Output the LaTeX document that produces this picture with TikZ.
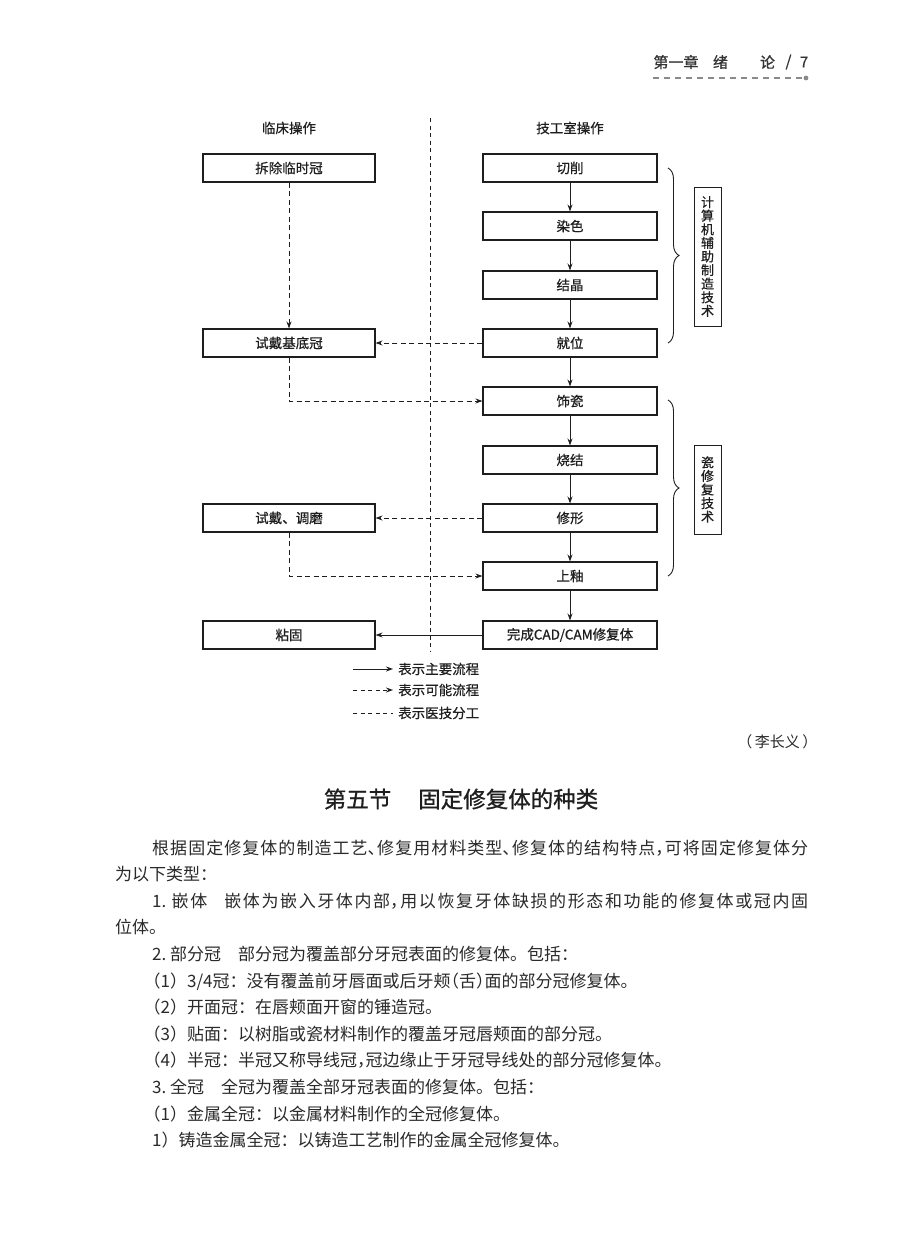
\documentclass[tikz,border=0pt]{standalone}
\usepackage{fontspec}
\setmainfont{Noto Sans CJK SC}
\newfontfamily\bodyfont{Noto Sans CJK SC}[RawFeature={+halt}]
\newfontfamily\diagfont{Noto Sans CJK SC}[FakeBold=0.6]
\newfontfamily\headfont{Noto Sans CJK SC}[FakeBold=0.9]
\usetikzlibrary{arrows.meta,decorations.pathreplacing}
\XeTeXlinebreaklocale "zh"
\XeTeXlinebreakskip=0pt plus 2pt
\definecolor{ink}{HTML}{1E1E1E}
\definecolor{txt}{HTML}{2A2A2A}
\definecolor{hdrgray}{HTML}{333333}
\definecolor{hdrline}{HTML}{8A8A8A}
\newcommand{\hs}{\hspace{0.5em}}
\begin{document}
\begin{tikzpicture}[x=1pt,y=-1pt,
  box/.style={draw=ink, line width=1.1pt, minimum height=28pt, inner sep=0pt,
    font=\diagfont\fontsize{13.5}{14}\selectfont, text=ink},
  lbox/.style={box, minimum width=172pt},
  rbox/.style={box, minimum width=174pt},
  arr/.style={draw=ink, line width=1pt, -{Stealth[length=7pt,width=5pt]}},
  darr/.style={arr, dash pattern=on 5pt off 3.5pt},
  sepline/.style={draw=ink, line width=1pt, dash pattern=on 4pt off 3.5pt},
  vbox/.style={draw=ink, line width=1pt, minimum width=27pt, inner sep=0pt, align=center,
    font=\diagfont\fontsize{13}{13.6}\selectfont, text=ink},
  bracestyle/.style={draw=ink, line width=0.9pt, decorate, decoration={brace, amplitude=11pt}},
  legtext/.style={anchor=west, inner sep=0pt, font=\diagfont\fontsize{13.5}{14}\selectfont, text=ink},
  colhead/.style={inner sep=0pt, font=\diagfont\fontsize{13.5}{14}\selectfont, text=ink},
  hdr/.style={inner sep=0pt, font=\headfont\fontsize{15}{16}\selectfont, text=hdrgray}]
\useasboundingbox (0,0) rectangle (900,1245);
\fill[white] (0,0) rectangle (900,1245);

% page header
\node[hdr] (h1) at (676,62) {第一章};
\node[hdr] (h2) at (720.5,62) {绪};
\node[hdr] (h3) at (767.5,62) {论};
\node[hdr] (h4) at (788.5,62) {/};
\node[hdr] (h5) at (804,62) {7};
\coordinate (hl1) at (653,78);
\coordinate (hl2) at (803,78);
\draw[hdrline, line width=1.2pt, dash pattern=on 6pt off 5pt] (hl1) -- (hl2);
\fill[hdrline] (806,78) circle (2.4pt);

% column headings
\node[colhead] (cl) at (289,128) {临床操作};
\node[colhead] (cr) at (570,128) {技工室操作};

% separator
\coordinate (sepT) at (430,118);
\coordinate (sepB) at (430,652);
\draw[sepline] (sepT) -- (sepB);

% right column
\node[rbox] (qx) at (570,168) {切削};
\node[rbox] (rs) at (570,226) {染色};
\node[rbox] (jj) at (570,285) {结晶};
\node[rbox] (jw) at (570,343) {就位};
\node[rbox] (sc) at (570,401) {饰瓷};
\node[rbox] (sj) at (570,460) {烧结};
\node[rbox] (xx) at (570,518) {修形};
\node[rbox] (sy) at (570,576) {上釉};
\node[rbox] (wc) at (570,635) {完成CAD/CAM修复体};

% left column
\node[lbox] (cc) at (289,168) {拆除临时冠};
\node[lbox] (sd) at (289,343) {试戴基底冠};
\node[lbox] (tm) at (289,518) {试戴、调磨};
\node[lbox] (zg) at (289,635) {粘固};

% main flow
\draw[arr] (qx) -- (rs);
\draw[arr] (rs) -- (jj);
\draw[arr] (jj) -- (jw);
\draw[arr] (jw) -- (sc);
\draw[arr] (sc) -- (sj);
\draw[arr] (sj) -- (xx);
\draw[arr] (xx) -- (sy);
\draw[arr] (sy) -- (wc);
\draw[arr] (wc) -- (zg);

% possible flow
\draw[darr] (cc) -- (sd);
\draw[darr] (jw) -- (sd);
\draw[darr] (sd.south) |- (sc.west);
\draw[darr] (xx) -- (tm);
\draw[darr] (tm.south) |- (sy.west);

% braces
\coordinate (b1t) at (668,168);
\coordinate (b1b) at (668,343);
\coordinate (b2t) at (668,400);
\coordinate (b2b) at (668,576);
\draw[bracestyle] (b1t) -- (b1b);
\draw[bracestyle] (b2t) -- (b2b);
\node[vbox, minimum height=139pt] (cam) at (707.5,256.5) {计\\算\\机\\辅\\助\\制\\造\\技\\术};
\node[vbox, minimum height=89pt] (cx) at (707.5,489.5) {瓷\\修\\复\\技\\术};

% legend
\coordinate (l1a) at (353,669);
\coordinate (l1b) at (393,669);
\coordinate (l2a) at (353,690);
\coordinate (l2b) at (393,690);
\coordinate (l3a) at (353,713);
\coordinate (l3b) at (393,713);
\draw[arr] (l1a) -- (l1b);
\draw[darr, dash pattern=on 4pt off 3.5pt] (l2a) -- (l2b);
\draw[sepline] (l3a) -- (l3b);
\node[legtext] (t1) at (398,669) {表示主要流程};
\node[legtext] (t2) at (398,690) {表示可能流程};
\node[legtext] (t3) at (398,713) {表示医技分工};

% author
\node[anchor=east, inner sep=0pt, font=\bodyfont\fontsize{15}{16}\selectfont, text=txt] (au) at (810,742) {（\,李长义\,）};

% section title
\node[inner sep=0pt, font=\headfont\fontsize{22.5}{24}\selectfont, text=ink] (title) at (461,799) {第五节\hspace{1.2em}固定修复体的种类};

% body text
\node[anchor=base west, inner sep=0pt, text width=693pt, align=justify, text=txt,
  font=\bodyfont\fontsize{17}{26.6}\selectfont] (body) at (115,854) {%
\hspace*{37pt}根据固定修复体的制造工艺、修复用材料类型、修复体的结构特点，可将固定修复体分\linebreak
为以下类型：\par
\hspace*{37pt}1.\ 嵌体\hspace{1em}嵌体为嵌入牙体内部，用以恢复牙体缺损的形态和功能的修复体或冠内固\linebreak
位体。\par
\hspace*{37pt}2.\ 部分冠\hspace{1em}部分冠为覆盖部分牙冠表面的修复体。\hs 包括：\par
\hspace*{37pt}（1）\hs 3/4冠：\hs 没有覆盖前牙唇面或后牙颊（舌）面的部分冠修复体。\par
\hspace*{37pt}（2）\hs 开面冠：\hs 在唇颊面开窗的锤造冠。\par
\hspace*{37pt}（3）\hs 贴面：\hs 以树脂或瓷材料制作的覆盖牙冠唇颊面的部分冠。\par
\hspace*{37pt}（4）\hs 半冠：\hs 半冠又称导线冠，冠边缘止于牙冠导线处的部分冠修复体。\par
\hspace*{37pt}3.\ 全冠\hspace{1em}全冠为覆盖全部牙冠表面的修复体。\hs 包括：\par
\hspace*{37pt}（1）\hs 金属全冠：\hs 以金属材料制作的全冠修复体。\par
\hspace*{37pt}1）\hs 铸造金属全冠：\hs 以铸造工艺制作的金属全冠修复体。\par};
\end{tikzpicture}
\end{document}
